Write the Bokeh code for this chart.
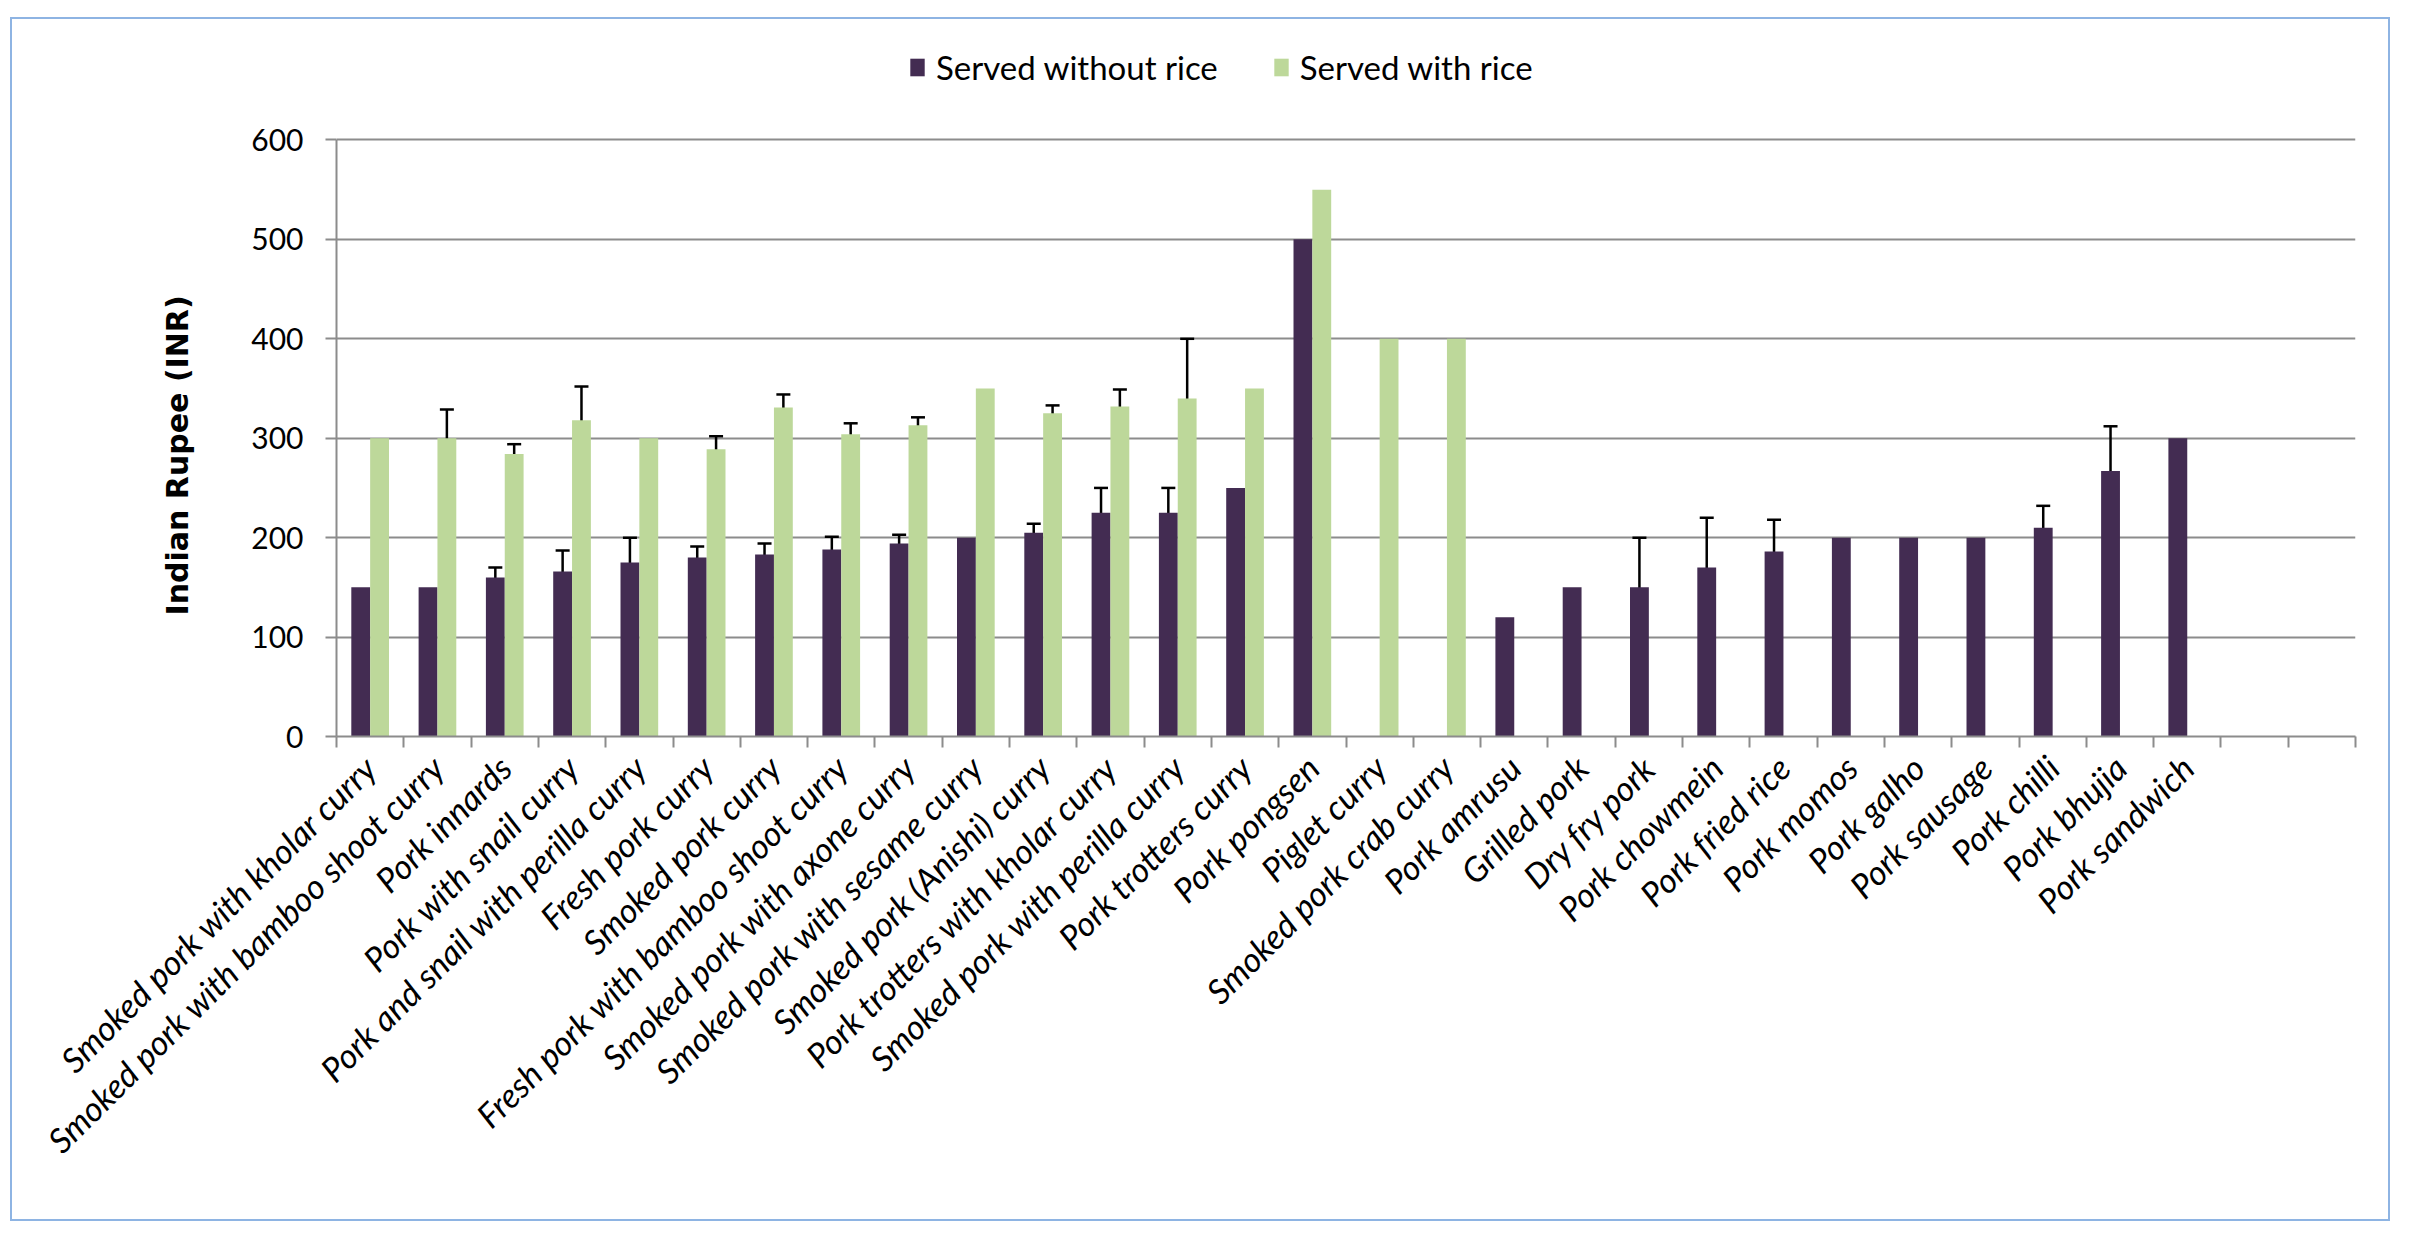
import math
import numpy as np
from bokeh.plotting import figure
from bokeh.models import (ColumnDataSource, Range1d, FixedTicker, Legend, LegendItem,
                          Whisker, TeeHead)
from bokeh.embed import file_html
from bokeh.resources import INLINE

# ---------------- data ----------------
categories = [
    "Smoked pork with kholar curry",
    "Smoked pork with bamboo shoot curry",
    "Pork innards",
    "Pork with snail curry",
    "Pork and snail with perilla curry",
    "Fresh pork curry",
    "Smoked pork curry",
    "Fresh pork with bamboo shoot curry",
    "Smoked pork with axone curry",
    "Smoked pork with sesame curry",
    "Smoked pork (Anishi) curry",
    "Pork trotters with kholar curry",
    "Smoked pork with perilla curry",
    "Pork trotters curry",
    "Pork pongsen",
    "Piglet curry",
    "Smoked pork crab curry",
    "Pork amrusu",
    "Grilled pork",
    "Dry fry pork",
    "Pork chowmein",
    "Pork fried rice",
    "Pork momos",
    "Pork galho",
    "Pork sausage",
    "Pork chilli",
    "Pork bhujia",
    "Pork sandwich",
    "",
    "",
]

without_rice = [150, 150, 160, 166, 175, 180, 183, 188, 194, 200, 205, 225, 225, 250, 500,
                None, None, 120, 150, 150, 170, 186, 200, 200, 200, 210, 267, 300, None, None]
without_rice_err = [0, 0, 10, 21, 25, 11, 11, 13, 9, 0, 9, 25, 25, 0, 0,
                    0, 0, 0, 0, 50, 50, 32, 0, 0, 0, 22, 45, 0, 0, 0]

with_rice = [300, 300, 284, 318, 300, 289, 331, 304, 313, 350, 325, 332, 340, 350, 550,
             400, 400, None, None, None, None, None, None, None, None, None, None, None, None, None]
with_rice_err = [0, 29, 10, 34, 0, 13, 13, 11, 8, 0, 8, 17, 60, 0, 0,
                 0, 0, 0, 0, 0, 0, 0, 0, 0, 0, 0, 0, 0, 0, 0]

y_ticks = [0, 100, 200, 300, 400, 500, 600]
y_title = "Indian Rupee (INR)"
series_names = ["Served without rice", "Served with rice"]

# ---------------- style ----------------
PURPLE = "#432C52"
GREEN = "#BDD89A"
GRID = "#8C8C8C"
FONT = "Lato"

n = len(categories)
idx = np.arange(n)
offset = 0.14
bar_w = 0.28


def build(values, errs, shift):
    xs, tops, ex, lo, hi = [], [], [], [], []
    for i, (v, e) in enumerate(zip(values, errs)):
        if v is None:
            continue
        xs.append(idx[i] + shift)
        tops.append(v)
        if e:
            ex.append(idx[i] + shift)
            lo.append(v - e)
            hi.append(v + e)
    return (ColumnDataSource(dict(x=xs, top=tops)),
            ColumnDataSource(dict(x=ex, lower=lo, upper=hi)))


src_wo, err_wo = build(without_rice, without_rice_err, -offset)
src_w, err_w = build(with_rice, with_rice_err, offset)

p = figure(width=2380, height=1204, output_backend="svg", toolbar_location=None,
           x_range=Range1d(-0.5, n - 0.5), y_range=Range1d(0, 700),
           title=y_title, title_location="left",
           min_border_left=324, min_border_right=37, min_border_top=21, min_border_bottom=487)
p.margin = (17, 0, 0, 10)
p.styles = {"border": "2px solid #8EB4E3"}
p.outline_line_color = None
p.background_fill_color = "white"
p.border_fill_color = "white"

p.title.align = "left"
p.title.offset = 121
p.title.standoff = 107
p.title.text_font = "DejaVu Sans"
p.title.text_font_style = "bold"
p.title.text_font_size = "30px"
p.title.text_color = "black"

r1 = p.vbar(x="x", top="top", width=bar_w, source=src_wo, fill_color=PURPLE, line_color=None)
r2 = p.vbar(x="x", top="top", width=bar_w, source=src_w, fill_color=GREEN, line_color=None)

for es in (err_wo, err_w):
    w = Whisker(source=es, base="x", lower="lower", upper="upper", dimension="height",
                line_color="black", line_width=2.5,
                upper_head=TeeHead(size=14, line_color="black", line_width=2.5),
                lower_head=TeeHead(size=14, line_color="black", line_width=2.5))
    p.add_layout(w)

# x axis
xa = p.xaxis[0]
xa.ticker = FixedTicker(ticks=list(idx), minor_ticks=list(np.arange(n + 1) - 0.5))
xa.major_label_overrides = {int(i): categories[i] for i in idx}
xa.major_label_orientation = math.pi / 4
xa.major_tick_out = 0
xa.major_tick_in = 0
xa.minor_tick_out = 11
xa.minor_tick_in = 0
xa.minor_tick_line_color = GRID
xa.minor_tick_line_width = 2
xa.axis_line_color = GRID
xa.axis_line_width = 2
xa.major_label_text_font = FONT
xa.major_label_text_font_style = "italic"
xa.major_label_text_font_size = "34px"
xa.major_label_text_color = "black"
xa.major_label_standoff = 14

# y axis
ya = p.yaxis[0]
ya.ticker = FixedTicker(ticks=y_ticks)
ya.bounds = (0, 600)
ya.major_tick_out = 11
ya.major_tick_in = 0
ya.minor_tick_out = 0
ya.minor_tick_in = 0
ya.major_tick_line_color = GRID
ya.major_tick_line_width = 2
ya.axis_line_color = GRID
ya.axis_line_width = 2
ya.major_label_text_font = FONT
ya.major_label_text_font_size = "30px"
ya.major_label_text_color = "black"
ya.major_label_standoff = 22

p.xgrid.grid_line_color = None
p.ygrid.grid_line_color = GRID
p.ygrid.grid_line_width = 2

legend = Legend(items=[LegendItem(label=series_names[0], renderers=[r1]),
                       LegendItem(label=series_names[1], renderers=[r2])],
                orientation="horizontal", location=(572, 649),
                padding=0, margin=0, spacing=54, label_standoff=10,
                glyph_width=18, glyph_height=22,
                label_text_font=FONT, label_text_font_size="33px", label_text_color="black",
                border_line_color=None, background_fill_alpha=0)
p.add_layout(legend, "center")

open("out.html", "w").write(file_html(p, INLINE))
